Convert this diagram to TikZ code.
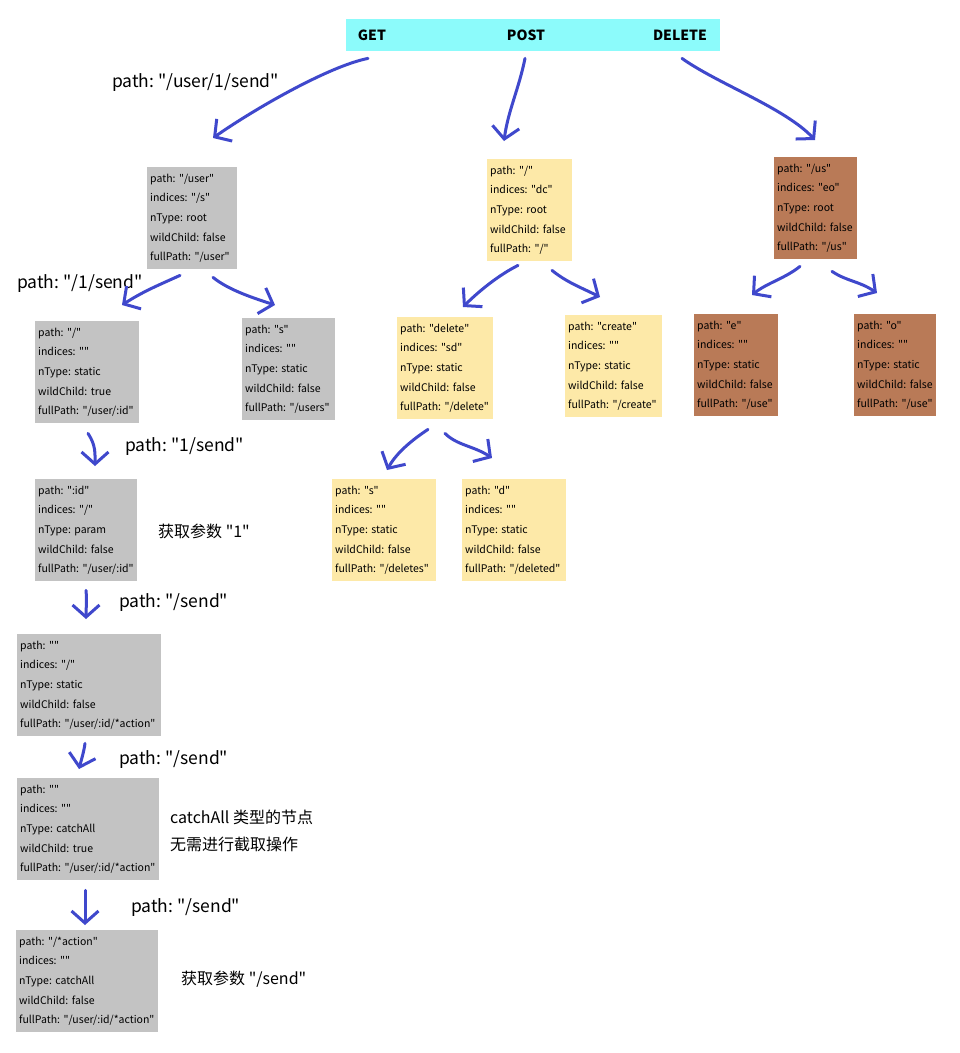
\documentclass[tikz,border=0pt]{standalone}
\usepackage{fontspec}
\setmainfont{Noto Sans CJK SC}[Ligatures=TeXOff]
\usetikzlibrary{arrows.meta}
\frenchspacing

\definecolor{hdrcyan}{HTML}{8CFBFB}
\definecolor{getgray}{HTML}{C3C3C3}
\definecolor{postyellow}{HTML}{FDE9A8}
\definecolor{delbrown}{HTML}{B97A57}
\definecolor{penblue}{HTML}{3F48CC}

\newcommand{\fields}[5]{\mbox{path: #1}\\\mbox{indices: #2}\\\mbox{nType: #3}\\\mbox{wildChild: #4}\\\mbox{fullPath: #5}}

\tikzset{
  box/.style={anchor=north west, align=left, inner xsep=3pt, minimum height=102pt,
    font=\fontsize{10.5}{19.6}\selectfont},
  gbox/.style={box, fill=getgray, text width=#1},
  ybox/.style={box, fill=postyellow, text width=#1},
  bbox/.style={box, fill=delbrown, text width=#1},
  lbl/.style={anchor=west, inner sep=0pt, font=\fontsize{17.5}{27}\selectfont},
  cjk/.style={anchor=west, inner sep=0pt, font=\fontsize{16}{27}\selectfont},
  pen/.style={draw=penblue, line width=3pt, line cap=round,
    -{Straight Barb[length=12pt,width=27pt,line width=3pt]}}
}

\begin{document}
\begin{tikzpicture}[x=1pt,y=-1pt]
  \useasboundingbox (0,0) rectangle (960,1053);
  \fill[white] (0,0) rectangle (960,1053);

  % methods
  \node[anchor=north west, fill=hdrcyan, minimum width=374pt, minimum height=32pt, inner sep=0pt] (hdr) at (346,19) {};
  \node[font=\fontsize{14}{16}\bfseries] (get) at (372,35) {GET};
  \node[font=\fontsize{14}{16}\bfseries] (post) at (526,35) {POST};
  \node[font=\fontsize{14}{16}\bfseries] (del) at (680,35) {DELETE};

  % GET tree
  \node[gbox=84pt] (user) at (147,167) {\fields{"/user"}{"/s"}{root}{false}{"/user"}};
  \node[gbox=98pt] (gslash) at (35,321) {\fields{"/"}{""}{static}{true}{"/user/:id"}};
  \node[gbox=87pt] (gs) at (242,318) {\fields{"s"}{""}{static}{false}{"/users"}};
  \node[gbox=96pt] (gid) at (35,479) {\fields{":id"}{"/"}{param}{false}{"/user/:id"}};
  \node[gbox=138pt] (gsend) at (17,634) {\fields{""}{"/"}{static}{false}{"/user/:id/*action"}};
  \node[gbox=136pt] (gcatch) at (17,778) {\fields{""}{""}{catchAll}{true}{"/user/:id/*action"}};
  \node[gbox=136pt] (gaction) at (16,930) {\fields{"/*action"}{""}{catchAll}{false}{"/user/:id/*action"}};

  % POST tree
  \node[ybox=79pt] (proot) at (487,159) {\fields{"/"}{"dc"}{root}{false}{"/"}};
  \node[ybox=90pt] (pdel) at (397,317) {\fields{"delete"}{"sd"}{static}{false}{"/delete"}};
  \node[ybox=91pt] (pcre) at (565,315) {\fields{"create"}{""}{static}{false}{"/create"}};
  \node[ybox=98pt] (pdels) at (332,479) {\fields{"s"}{""}{static}{false}{"/deletes"}};
  \node[ybox=98pt] (pdeld) at (462,479) {\fields{"d"}{""}{static}{false}{"/deleted"}};

  % DELETE tree
  \node[bbox=77pt] (droot) at (774,157) {\fields{"/us"}{"eo"}{root}{false}{"/us"}};
  \node[bbox=78pt] (dele) at (694,314) {\fields{"e"}{""}{static}{false}{"/use"}};
  \node[bbox=76pt] (delo) at (854,314) {\fields{"o"}{""}{static}{false}{"/use"}};

  % notes
  \node[lbl] (n1) at (112,83) {path: "/user/1/send"};
  \node[lbl] (n2) at (17,284) {path: "/1/send"};
  \node[lbl] (n3) at (125,447) {path: "1/send"};
  \node[cjk] (n4) at (158,531) {获取参数 "1"};
  \node[lbl] (n5) at (119,603) {path: "/send"};
  \node[lbl] (n6) at (119,760) {path: "/send"};
  \node[cjk, align=left] (n7) at (170,831) {catchAll 类型的节点\\无需进行截取操作};
  \node[lbl] (n8) at (131,908) {path: "/send"};
  \node[cjk] (n9) at (181,979) {获取参数 "/send"};

  % hand drawn arrows
  \draw[pen] ([shift={(22,7)}]hdr.south west) .. controls +(-40,8) and +(40,-28) .. ([shift={(66,-29)}]user.north west);
  \draw[pen] ([shift={(179,7)}]hdr.south west) .. controls +(-6,30) and +(4,-30) .. ([shift={(17,-18)}]proot.north west);
  \draw[pen] ([shift={(336,7)}]hdr.south west) .. controls +(35,25) and +(-30,-32) .. ([shift={(41,-17)}]droot.north west);

  \draw[pen] ([shift={(33,6)}]user.south west) .. controls +(-22,10) and +(22,-14) .. ([shift={(87,-16)}]gslash.north west);
  \draw[pen] ([shift={(66,8)}]user.south west) .. controls +(15,12) and +(-25,-8) .. ([shift={(33,-13)}]gs.north west);
  \draw[pen] ([shift={(53,10)}]gslash.south west) .. controls +(8,12) and +(0,-12) .. ([shift={(60,-13)}]gid.north west);
  \draw[pen] ([shift={(51,9)}]gid.south west) .. controls +(1,10) and +(0,-10) .. ([shift={(69,-15)}]gsend.north west);
  \draw[pen] ([shift={(68,7)}]gsend.south west) .. controls +(-1,8) and +(2,-8) .. ([shift={(62,-9)}]gcatch.north west);
  \draw[pen] ([shift={(68,10)}]gcatch.south west) .. controls +(0,12) and +(0,-12) .. ([shift={(69,-5)}]gaction.north west);

  \draw[pen] ([shift={(31,4)}]proot.south west) .. controls +(-20,10) and +(15,-15) .. ([shift={(66,-10)}]pdel.north west);
  \draw[pen] ([shift={(65,9)}]proot.south west) .. controls +(15,12) and +(-20,-10) .. ([shift={(35,-18)}]pcre.north west);
  \draw[pen] ([shift={(31,10)}]pdel.south west) .. controls +(-15,10) and +(10,-18) .. ([shift={(55,-9)}]pdels.north west);
  \draw[pen] ([shift={(48,14)}]pdel.south west) .. controls +(12,12) and +(-18,-12) .. ([shift={(30,-21)}]pdeld.north west);

  \draw[pen] ([shift={(26,7)}]droot.south west) .. controls +(-15,12) and +(15,-12) .. ([shift={(58,-19)}]dele.north west);
  \draw[pen] ([shift={(58,12)}]droot.south west) .. controls +(15,10) and +(-18,-12) .. ([shift={(23,-21)}]delo.north west);
\end{tikzpicture}
\end{document}
